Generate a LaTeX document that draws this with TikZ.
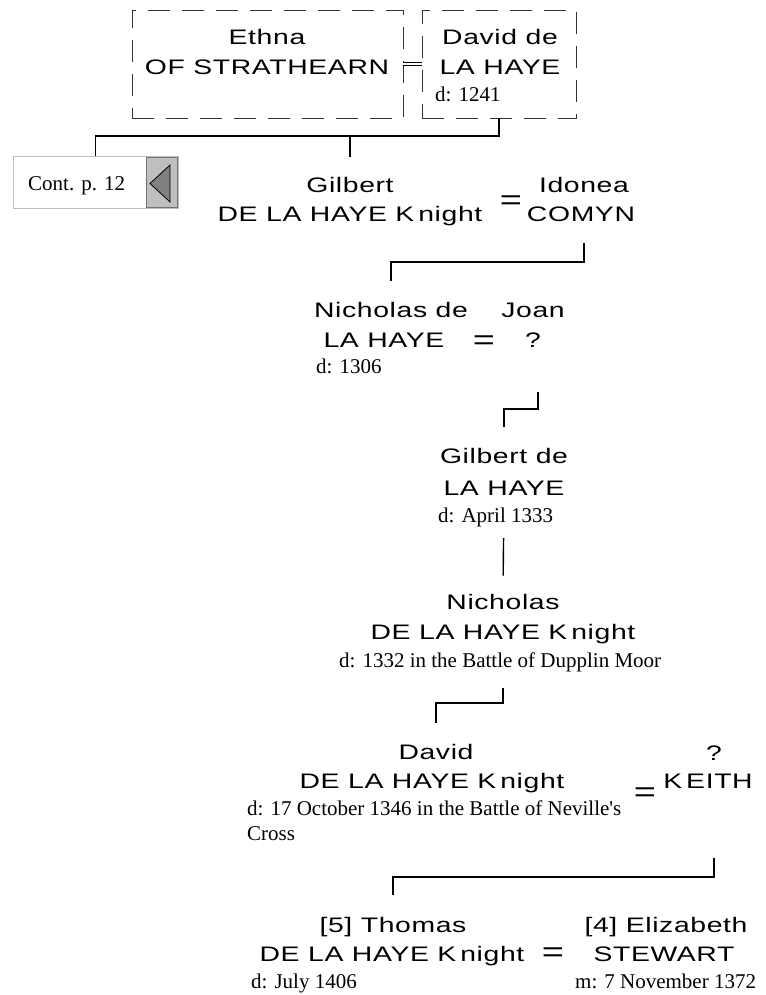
\documentclass[tikz,border=0pt]{standalone}
\usepackage{fontspec}
\newfontfamily\namefont[FakeStretch=1.35,LetterSpace=3]{Liberation Sans}
\newfontfamily\datefont[Ligatures=TeXOff]{Liberation Serif}
\usetikzlibrary{calc}

\begin{document}
\begin{tikzpicture}[x=1pt, y=-1pt,
    nm/.style={font=\namefont\fontsize{21}{25}\selectfont, anchor=base, inner sep=0pt},
    dt/.style={font=\datefont\fontsize{21}{25}\selectfont, anchor=base west, inner sep=0pt},
    eqs/.style={font=\namefont\fontsize{28}{28}\selectfont, anchor=base, inner sep=0pt},
    famline/.style={draw, line width=1.4pt},
    dashbox/.style={draw=black!80, dash pattern=on 22pt off 12pt, line width=0.8pt, minimum height=108pt, inner sep=0pt}]
\useasboundingbox (0,0) rectangle (765,995);

% top couple
\node[dashbox, minimum width=271pt] (boxE) at (267.5,64) {};
\node[dashbox, minimum width=154pt] (boxD) at (499,64) {};
\draw[double, double distance=2.2pt, line width=0.6pt] (boxE.east) -- (boxD.west);
\node[nm] (ethnaF) at (267,45) {Ethna};
\node[nm] (ethnaS) at (267,75) {OF STRATHEARN};
\node[nm] (davidF) at (500,45) {David de};
\node[nm] (davidS) at (500,75) {LA HAYE};
\node[dt] (davidD) at (435,102) {d: 1241};

% continuation box
\node[draw=black!25, line width=1pt, minimum width=165pt, minimum height=51pt, inner sep=0pt] (contbox) at (95.5,182.5) {};
\node[dt] (contlbl) at (28,190) {Cont. p. 12};
\node[draw=black!55, fill=black!25, minimum width=31pt, minimum height=50pt, inner sep=0pt] (contbtn) at (161.5,182) {};
\draw[fill=black!50, line width=0.8pt] (170,165) -- (170,202) -- (150,183.5) -- cycle;

% Gilbert = Idonea
\node[nm] (gilbertF) at (350,193) {Gilbert};
\node[nm] (gilbertS) at (350,222) {DE LA HAYE K\kern4pt night};
\node[eqs] (eq1) at (511,209) {=};
\node[nm] (idoneaF) at (584,193) {Idonea};
\node[nm] (idoneaS) at (581,222) {COMYN};

% Nicholas = Joan
\node[nm] (nicholasF) at (391,317) {Nicholas de};
\node[nm] (nicholasS) at (384,347) {LA HAYE};
\node[dt] (nicholasD) at (316,373) {d: 1306};
\node[eqs] (eq2) at (484,349) {=};
\node[nm] (joanF) at (533,317) {Joan};
\node[nm] (joanS) at (533,347) {?};

% Gilbert de
\node[nm] (gilbertdeF) at (504,463) {Gilbert de};
\node[nm] (gilbertdeS) at (504,495) {LA HAYE};
\node[dt] (gilbertdeD) at (438,522) {d: April 1333};

% Nicholas
\node[nm] (nicholasKF) at (503,609) {Nicholas};
\node[nm] (nicholasKS) at (503,639) {DE LA HAYE K\kern4pt night};
\node[dt] (nicholasKD) at (339,667) {d: 1332 in the Battle of Dupplin Moor};

% David = Keith
\node[nm] (davidKF) at (436,759) {David};
\node[nm] (davidKS) at (432,788) {DE LA HAYE K\kern4pt night};
\node[dt] (davidKD) at (247,815) {d: 17 October 1346 in the Battle of Neville's};
\node[dt] (davidKC) at (247,840) {Cross};
\node[eqs] (eq3) at (645,801) {=};
\node[nm] (keithF) at (714,760) {?};
\node[nm] (keithS) at (708,788) {K\kern4pt EITH};

% Thomas = Elizabeth
\node[nm] (thomasF) at (393,932) {[5] Thomas};
\node[nm] (thomasS) at (392,961) {DE LA HAYE K\kern4pt night};
\node[dt] (thomasD) at (251,988) {d: July 1406};
\node[eqs] (eq4) at (553,961) {=};
\node[nm] (elizF) at (666,932) {[4] Elizabeth};
\node[nm] (elizS) at (664,961) {STEWART};
\node[dt] (elizD) at (575,988) {m: 7 November 1372};

% lines of descent
\draw[famline] (boxD.south) -- (boxD.south |- 0,136) coordinate (bar1) -| (contbox.north);
\draw[famline, shorten >=21pt] (bar1) -| (gilbertF.north);
\draw[famline, shorten <=21pt, shorten >=21pt] (idoneaF |- idoneaS.south) -- (idoneaF |- 0,262) -| (nicholasF.north);
\draw[famline, shorten <=45pt, shorten >=21pt] ([xshift=5pt]joanS.south) -- ([xshift=5pt]joanS.south |- 0,409) -| (gilbertdeF.north);
\draw[famline, shorten <=43pt, shorten >=18pt] (gilbertdeS.south) -- (nicholasKF.north);
\draw[famline, shorten <=44pt, shorten >=21pt] (nicholasKS.south) -- (nicholasKS.south |- 0,703) -| (davidKF.north);
\draw[famline, shorten <=70pt, shorten >=22pt] (keithF |- keithS.south) -- (keithF |- 0,877) -| (thomasF.north);
\end{tikzpicture}
\end{document}
